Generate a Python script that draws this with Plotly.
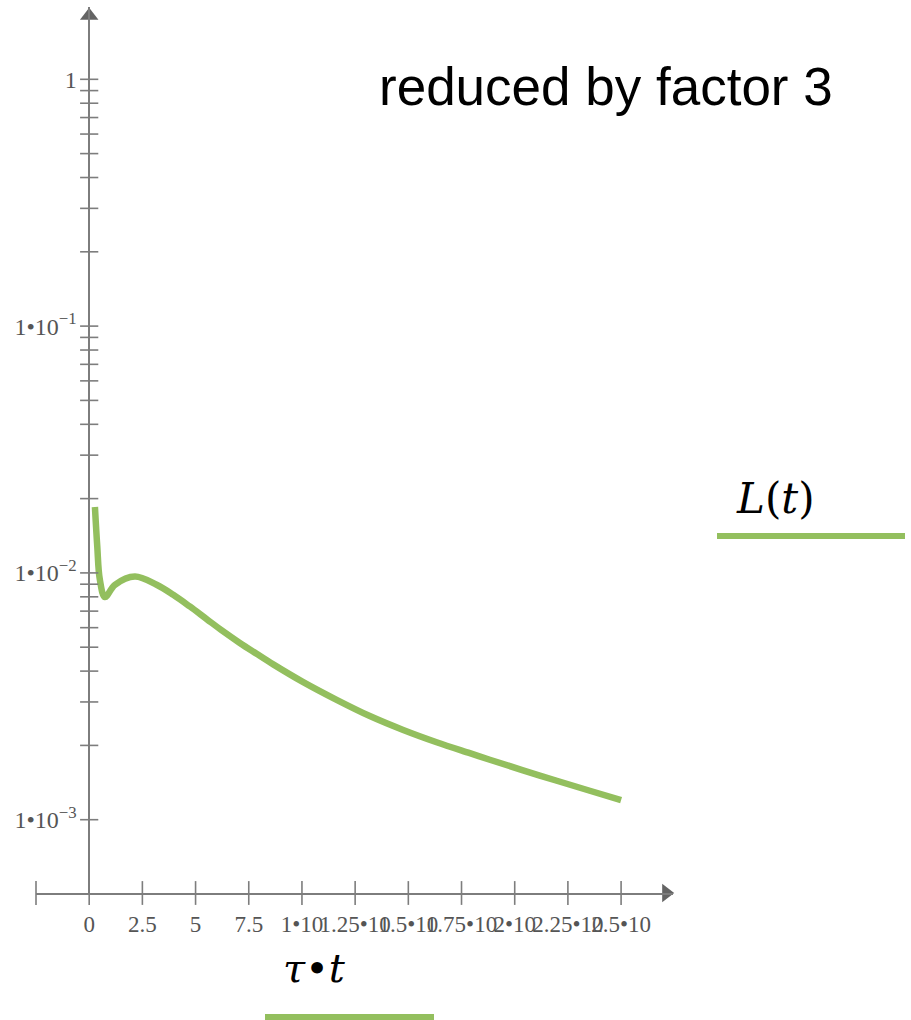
import plotly.graph_objects as go

# ---------------- data ----------------
tau_t = [0.27, 0.38, 0.50, 0.74, 1.21, 2.15, 3.17, 3.95, 4.73, 5.52, 6.30, 7.08,
         7.87, 8.65, 10.06, 11.63, 13.19, 14.76, 16.33, 17.89, 18.83, 21.18,
         23.53, 25.0]
L_t = [0.0185, 0.0128, 0.0094, 0.00798, 0.00895, 0.00967, 0.00895, 0.00815,
       0.00731, 0.00650, 0.00579, 0.00520, 0.00470, 0.00426, 0.00361, 0.00306,
       0.00263, 0.00231, 0.00206, 0.00186, 0.00175, 0.00151, 0.00131, 0.00120]

x_tickvals = [0, 2.5, 5, 7.5, 10, 12.5, 15, 17.5, 20, 22.5, 25]
x_ticktext = ["0", "2.5", "5", "7.5", "1•10", "1.25•10", "1.5•10", "1.75•10",
              "2•10", "2.25•10", "2.5•10"]
y_tickvals = [1, 0.1, 0.01, 0.001]
y_ticktext = ["1", "1•10<sup>−1</sup>", "1•10<sup>−2</sup>", "1•10<sup>−3</sup>"]

# ---------------- layout geometry ----------------
W, H = 911, 1020
PL, PR, PT, PB = 36, 673, 7, 893
X_RANGE = [-2.5, 27.44]
Y_RANGE = [-3.297, 0.293]  # log10

GREEN = "rgb(147,191,94)"
AX = "rgb(125,125,125)"
LBL = "rgb(85,85,85)"


def px_x(p):
    return (p - PL) / (PR - PL)


def px_y(p):
    return (PB - p) / (PB - PT)


# minor/major y tick positions (log decades 1e-3 .. 1)
y_ticks_all = []
for e in range(-3, 1):
    for m in range(1, 10):
        v = m * 10 ** e
        if v <= 1.0000001:
            y_ticks_all.append(v)

fig = go.Figure()

# curve
fig.add_trace(go.Scatter(
    x=tau_t, y=L_t, mode="lines",
    line=dict(color=GREEN, width=6.5, shape="spline", smoothing=1.0),
    hoverinfo="skip", showlegend=False))

# crossing ticks on y axis
fig.add_trace(go.Scatter(
    x=[0] * len(y_ticks_all), y=y_ticks_all, mode="markers",
    marker=dict(symbol="line-ew-open", size=13, color=AX,
                line=dict(color=AX, width=1.6)),
    hoverinfo="skip", showlegend=False, cliponaxis=False))

# crossing ticks on x axis
y_bottom = 10 ** Y_RANGE[0]
x_tick_pos = [X_RANGE[0]] + x_tickvals
fig.add_trace(go.Scatter(
    x=x_tick_pos, y=[y_bottom] * len(x_tick_pos), mode="markers",
    marker=dict(symbol="line-ns-open", size=17, color=AX,
                line=dict(color=AX, width=1.6)),
    hoverinfo="skip", showlegend=False, cliponaxis=False))

# axis arrows
fig.add_trace(go.Scatter(
    x=[0], y=[10 ** (Y_RANGE[1] - 0.035)], mode="markers",
    marker=dict(symbol="triangle-up", size=16, color="rgb(100,100,100)"),
    hoverinfo="skip", showlegend=False, cliponaxis=False))
fig.add_trace(go.Scatter(
    x=[X_RANGE[1] - 0.32], y=[y_bottom], mode="markers",
    marker=dict(symbol="triangle-right", size=16, color="rgb(100,100,100)"),
    hoverinfo="skip", showlegend=False, cliponaxis=False))

fig.update_layout(
    width=W, height=H, autosize=False,
    margin=dict(l=PL, r=W - PR, t=PT, b=H - PB, pad=0),
    paper_bgcolor="white", plot_bgcolor="white",
    showlegend=False,
    xaxis=dict(range=X_RANGE, showgrid=False, zeroline=False,
               showline=True, linecolor=AX, linewidth=1.6,
               tickvals=x_tickvals, ticktext=x_ticktext, tickangle=0,
               ticks="outside", ticklen=10, tickcolor="rgba(0,0,0,0)",
               tickfont=dict(family="Liberation Serif", size=23, color=LBL)),
    yaxis=dict(type="log", range=Y_RANGE, showgrid=False, zeroline=False,
               anchor="free", position=px_x(89.3),
               showline=True, linecolor=AX, linewidth=1.6,
               tickvals=y_tickvals, ticktext=y_ticktext,
               ticks="outside", ticklen=7, tickcolor="rgba(0,0,0,0)",
               tickfont=dict(family="Liberation Serif", size=24, color=LBL)),
)

annotations = [
    dict(text="reduced by factor 3", x=px_x(377), y=px_y(86),
         xanchor="left", yanchor="middle",
         font=dict(family="Liberation Sans", size=53, color="black")),
    dict(text="<i>L</i>(<i>t</i>)", x=px_x(775), y=px_y(498),
         xanchor="center", yanchor="middle",
         font=dict(family="DejaVu Serif", size=42, color="black")),
    dict(text="<i>τ</i>•<i>t</i>", x=px_x(314), y=px_y(968),
         xanchor="center", yanchor="middle",
         font=dict(family="DejaVu Serif", size=40, color="black")),
]
for a in annotations:
    a.update(xref="paper", yref="paper", showarrow=False)
fig.update_layout(annotations=annotations)

fig.add_shape(type="line", xref="paper", yref="paper",
              x0=px_x(717), x1=px_x(905), y0=px_y(536), y1=px_y(536),
              line=dict(color=GREEN, width=6))
fig.add_shape(type="line", xref="paper", yref="paper",
              x0=px_x(265), x1=px_x(434), y0=px_y(1017), y1=px_y(1017),
              line=dict(color=GREEN, width=6))

fig.write_html("out.html",
               config={"displayModeBar": False},
               post_script="document.body.style.margin='0';"
                           "document.body.style.overflow='hidden';")
